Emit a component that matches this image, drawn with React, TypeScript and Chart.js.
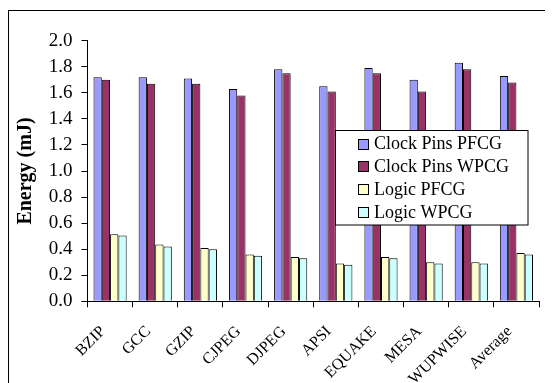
import React, { useEffect, useRef } from "react";
import { Chart, registerables } from "chart.js";

Chart.register(...registerables);

// Benchmarks on the x axis
const categories = ["BZIP", "GCC", "GZIP", "CJPEG", "DJPEG", "APSI", "EQUAKE", "MESA", "WUPWISE", "Average"];

// Energy per benchmark, mJ
const clockPinsPFCG = [1.72, 1.72, 1.71, 1.63, 1.78, 1.65, 1.79, 1.70, 1.83, 1.73];
const clockPinsWPCG = [1.70, 1.67, 1.67, 1.58, 1.75, 1.61, 1.75, 1.61, 1.78, 1.68];
const logicPFCG = [0.515, 0.435, 0.41, 0.36, 0.34, 0.29, 0.34, 0.30, 0.30, 0.37];
const logicWPCG = [0.505, 0.42, 0.40, 0.35, 0.33, 0.28, 0.33, 0.29, 0.29, 0.36];

const seriesLabels = ["Clock Pins PFCG", "Clock Pins WPCG", "Logic PFCG", "Logic WPCG"];
const seriesColors = ["#9999FF", "#993366", "#FFFFCC", "#CCFFFF"];

// Y axis range and step
const yMin = 0;
const yMax = 2.0;
const yStep = 0.2;

const SERIF = "'Liberation Serif', 'Times New Roman', serif";

// White page with a thin black frame (its bottom edge runs off the canvas)
const framePlugin = {
  id: "frame",
  beforeDraw(chart: any) {
    const { ctx, width, height } = chart;
    ctx.save();
    ctx.fillStyle = "#ffffff";
    ctx.fillRect(0, 0, width, height);
    ctx.strokeStyle = "#000000";
    ctx.lineWidth = 1;
    ctx.strokeRect(0.5, 2.5, width - 1.5, height + 10);
    ctx.restore();
  },
};

// Boxed legend floating over the right part of the plot
const floatingLegendPlugin = {
  id: "floatingLegend",
  afterDraw(chart: any) {
    const { ctx } = chart;
    const x = 327.5;
    const y = 122.5;
    const w = 192.5;
    const h = 94.5;
    ctx.save();
    ctx.fillStyle = "#ffffff";
    ctx.fillRect(x, y, w, h);
    ctx.strokeStyle = "#000000";
    ctx.lineWidth = 1;
    ctx.strokeRect(x, y, w, h);
    ctx.font = `18px ${SERIF}`;
    ctx.textBaseline = "middle";
    ctx.textAlign = "left";
    chart.data.datasets.forEach((ds: any, i: number) => {
      const cy = 135.5 + i * 22.8;
      ctx.fillStyle = ds.backgroundColor;
      ctx.fillRect(350.5, Math.round(cy - 5) + 0.5, 10, 10);
      ctx.strokeStyle = "#000000";
      ctx.strokeRect(350.5, Math.round(cy - 5) + 0.5, 10, 10);
      ctx.fillStyle = "#000000";
      ctx.fillText(ds.label, 366, cy + 1);
    });
    ctx.restore();
  },
};

function buildChart(canvas: HTMLCanvasElement) {
  const values = [clockPinsPFCG, clockPinsWPCG, logicPFCG, logicWPCG];
  return new Chart(canvas, {
    type: "bar",
    data: {
      labels: categories,
      datasets: values.map((data, i) => ({
        label: seriesLabels[i],
        data,
        backgroundColor: seriesColors[i],
        borderColor: "#000000",
        borderWidth: 1,
        borderSkipped: "bottom",
        categoryPercentage: 0.735,
        barPercentage: 1.0,
      })),
    },
    options: {
      responsive: false,
      animation: false,
      events: [],
      layout: { padding: { top: 32.7, right: 14, bottom: 0, left: 0 } },
      plugins: {
        legend: { display: false },
        tooltip: { enabled: false },
      },
      scales: {
        x: {
          afterFit(scale: any) {
            scale.height = 81.7;
          },
          grid: {
            offset: true,
            drawOnChartArea: false,
            drawTicks: true,
            tickLength: 6,
            color: "#000000",
          },
          border: { display: true, color: "#000000", width: 1 },
          ticks: {
            autoSkip: false,
            minRotation: 45,
            maxRotation: 45,
            padding: 15,
            labelOffset: -7,
            color: "#000000",
            font: { family: SERIF, size: 16 },
          },
        },
        y: {
          min: yMin,
          max: yMax,
          afterFit(scale: any) {
            scale.width = 79.5;
          },
          grid: {
            drawOnChartArea: false,
            drawTicks: true,
            tickLength: 6,
            color: "#000000",
          },
          border: { display: true, color: "#000000", width: 1 },
          ticks: {
            stepSize: yStep,
            padding: 9,
            color: "#000000",
            font: { family: SERIF, size: 19 },
            callback: (v: any) => Number(v).toFixed(1),
          },
          title: {
            display: true,
            text: "Energy (mJ)",
            color: "#000000",
            font: { family: SERIF, size: 20, weight: "bold" },
            padding: { top: 6, bottom: 0 },
          },
        },
      },
    },
    plugins: [framePlugin, floatingLegendPlugin],
  });
}

export default function App() {
  const canvasRef = useRef<HTMLCanvasElement | null>(null);

  useEffect(() => {
    const canvas = canvasRef.current;
    if (!canvas) return;
    let chart: Chart | null = null;
    let cancelled = false;
    const fonts: any = (document as any).fonts;
    const ready = fonts
      ? Promise.all([
          fonts.load("18px 'Liberation Serif'"),
          fonts.load("bold 18px 'Liberation Serif'"),
        ]).catch(() => null)
      : Promise.resolve(null);
    ready.then(() => {
      if (!cancelled) chart = buildChart(canvas);
    });
    return () => {
      cancelled = true;
      if (chart) chart.destroy();
    };
  }, []);

  return (
    <div>
      <span
        style={{
          position: "absolute",
          left: -9999,
          top: 0,
          fontFamily: SERIF,
        }}
      >
        Energy <b>Energy</b>
      </span>
      <canvas
        ref={canvasRef}
        width={545}
        height={375}
        style={{ display: "block", width: 545, height: 375 }}
      />
    </div>
  );
}
